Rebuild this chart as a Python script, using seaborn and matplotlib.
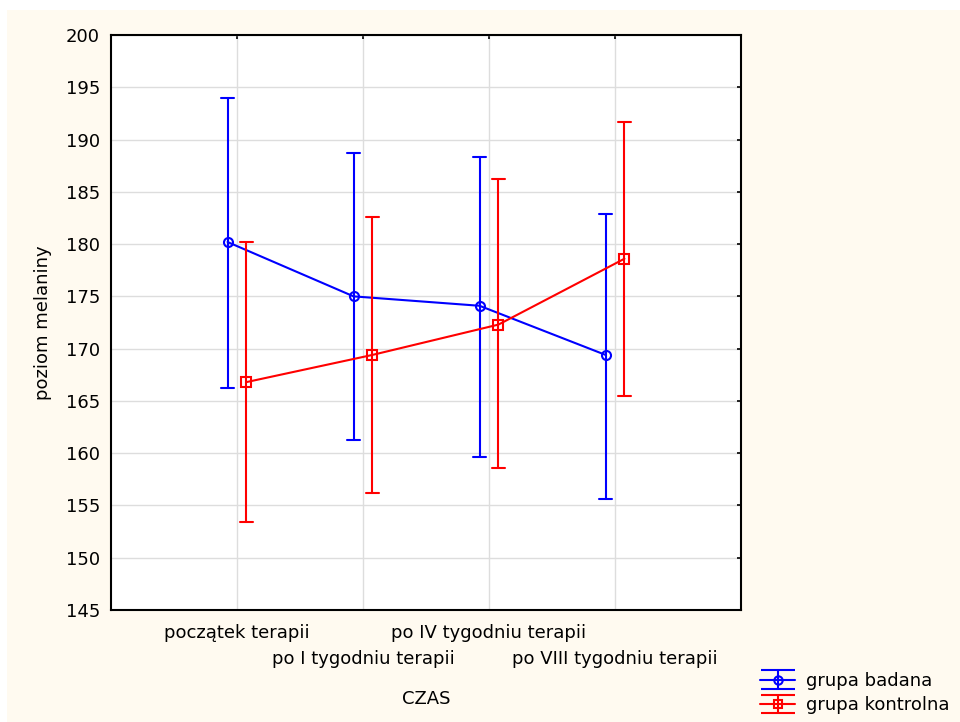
import numpy as np
import pandas as pd
import matplotlib
matplotlib.use("Agg")
import matplotlib.pyplot as plt
import seaborn as sns
from matplotlib.patches import Rectangle
from matplotlib.transforms import ScaledTranslation

# dane (średnia oraz granice przedziału)
czas = ['początek terapii', 'po I tygodniu terapii',
        'po IV tygodniu terapii', 'po VIII tygodniu terapii']
grupy = ['grupa badana', 'grupa kontrolna']

badana_srednia = [180.2, 175.0, 174.1, 169.4]
badana_dol = [166.2, 161.3, 159.6, 155.6]
badana_gora = [194.0, 188.7, 188.3, 182.9]

kontrolna_srednia = [166.8, 169.4, 172.3, 178.6]
kontrolna_dol = [153.4, 156.2, 158.6, 165.5]
kontrolna_gora = [180.2, 182.6, 186.2, 191.7]

y_ticks = [145, 150, 155, 160, 165, 170, 175, 180, 185, 190, 195, 200]

kolory = ['#0000ff', '#ff0000']

# tabela w formacie dlugim: dol / srednia / gora dla kazdej grupy i czasu
wiersze = []
for grupa, sr, dl, gr in [(grupy[0], badana_srednia, badana_dol, badana_gora),
                          (grupy[1], kontrolna_srednia, kontrolna_dol, kontrolna_gora)]:
    for i, c in enumerate(czas):
        for v in (dl[i], sr[i], gr[i]):
            wiersze.append({'CZAS': c, 'grupa': grupa, 'poziom': v})
df = pd.DataFrame(wiersze)

sns.set_style("white")
plt.rcParams['font.family'] = ['DejaVu Sans']
plt.rcParams['font.size'] = 13
plt.rcParams['text.color'] = 'black'
plt.rcParams['axes.labelcolor'] = 'black'
plt.rcParams['xtick.color'] = 'black'
plt.rcParams['ytick.color'] = 'black'

fig = plt.figure(figsize=(9.6, 7.22), dpi=100)
fig.patch.set_facecolor('white')
fig.patches.append(Rectangle((7 / 960, 0), 1, 1 - 10 / 722, transform=fig.transFigure,
                             facecolor='#fffaf0', edgecolor='none', zorder=-10))

ax = fig.add_axes([111 / 960, 1 - 610 / 722, 630 / 960, 575 / 722])
ax.set_facecolor('white')

sns.pointplot(data=df, x='CZAS', y='poziom', hue='grupa', order=czas, hue_order=grupy,
              estimator='median', errorbar=lambda v: (v.min(), v.max()),
              dodge=0.15, markers=['o', 's'], palette=kolory,
              linewidth=1.5, markersize=6.5, capsize=0.1,
              err_kws={'linewidth': 1.5}, legend=False, ax=ax)

for ln in ax.lines:
    ln.set_markerfacecolor('none')
    ln.set_markeredgewidth(1.5)

ax.set_xlim(-1, 4)
ax.set_ylim(145, 200)
ax.set_yticks(y_ticks)
ax.set_xticks(range(len(czas)))
ax.set_xticklabels(czas)
ax.tick_params(axis='both', direction='in', length=3, width=1.2, color='black',
               top=True, right=True, labelsize=13, pad=8, labelcolor='black')
ax.tick_params(axis='x', pad=10)

# co druga etykieta przesunieta nizej (jak w oryginale)
for i, lab in enumerate(ax.get_xticklabels()):
    if i % 2 == 1:
        lab.set_transform(lab.get_transform() + ScaledTranslation(0, -0.26, fig.dpi_scale_trans))

ax.grid(True, color='#dddddd', linewidth=1)
ax.set_axisbelow(True)
for s in ax.spines.values():
    s.set_color('black')
    s.set_linewidth(1.5)

ax.set_xlabel('CZAS', fontsize=13)
ax.xaxis.set_label_coords(0.5, -0.14)
ax.set_ylabel('poziom melaniny', fontsize=13, labelpad=10)

# legenda w stylu wykresu z przedzialami
uchwyty = []
for g, k, m in zip(grupy, kolory, ['o', 's']):
    h = ax.errorbar([np.nan], [np.nan], yerr=[1], fmt='-' + m, color=k, mfc='none',
                    mew=1.5, ms=6, lw=1.5, capsize=12.5, capthick=1.5, label=g)
    uchwyty.append(h)
fig.legend(uchwyty, grupy, loc='center left', bbox_to_anchor=(760 / 960, 1 - 693 / 722),
           frameon=False, fontsize=13, handlelength=1.95, handletextpad=0.6,
           labelspacing=0.35, borderpad=0, borderaxespad=0)

plt.savefig('out.png', dpi=100, facecolor=fig.get_facecolor())
